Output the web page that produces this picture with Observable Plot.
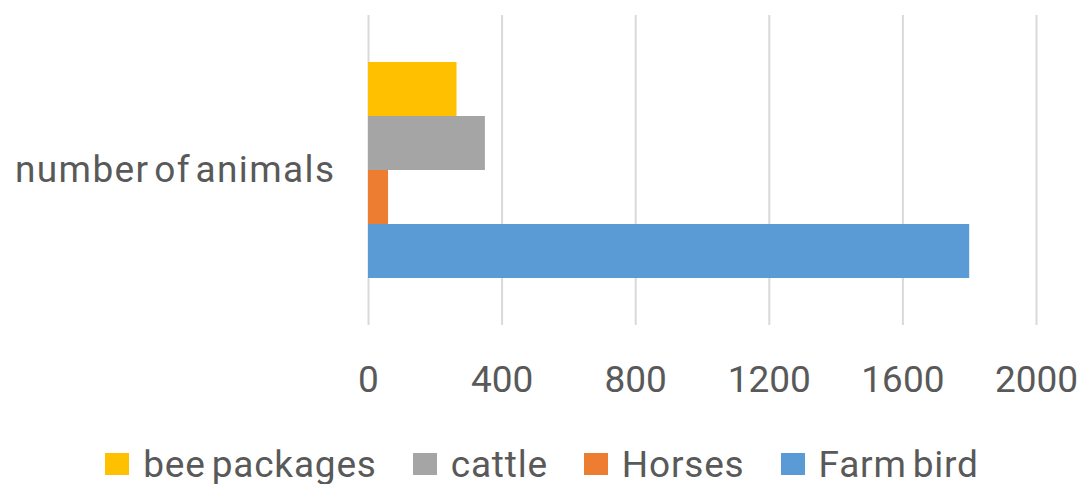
<!DOCTYPE html>
<html><head><meta charset="utf-8">
<script src="https://cdn.jsdelivr.net/npm/d3@7"></script>
<script src="https://cdn.jsdelivr.net/npm/@observablehq/plot@0.6"></script>
<style>
body{margin:0;background:#fff;font-family:Roboto,sans-serif;}
#chart svg{display:block;}
#legend{display:flex;justify-content:center;align-items:center;padding-top:24px;height:40px;font-family:Roboto,sans-serif;font-size:37px;letter-spacing:0.8px;word-spacing:-4px;color:#595959;}
.item{display:flex;align-items:center;margin:0 18px;}
.sw{width:24px;height:22px;margin-right:14px;}
</style></head><body><div id="chart"></div><div id="legend"></div><script>
const category = ["number of animals"];
const series = ["bee packages","cattle","Horses","Farm bird"];
const values = [265,350,60,1800];
const colors = ["#FFC000","#A5A5A5","#ED7D31","#5B9BD5"];
const xTicks = [0,400,800,1200,1600,2000];
const data = series.map((s,i)=>({category:category[0], series:s, value:values[i]}));
const plot = Plot.plot({
  width:1084, height:420, marginLeft:368, marginRight:48, marginTop:15, marginBottom:95,
  style:{fontFamily:"Roboto, sans-serif", background:"#fff", color:"#595959"},
  x:{domain:[0,2000], label:null},
  y:{domain:series, paddingInner:0, paddingOuter:0.87, axis:null},
  fy:{domain:category, padding:0, label:null, axis:null},
  color:{domain:series, range:colors},
  marks:[
    Plot.gridX(xTicks, {stroke:"#d9d9d9", strokeOpacity:1, strokeWidth:2}),
    Plot.barX(data, {x:"value", y:"series", fy:"category", fill:"series"}),
    Plot.axisX(xTicks, {tickSize:0, tickPadding:40, fontSize:37, fill:"#595959", label:null, tickFormat:d => String(d)}),
    Plot.axisFy({tickSize:0, tickPadding:33, fontSize:37, fill:"#595959", label:null, anchor:"left"})
  ]
});
document.getElementById("chart").appendChild(plot);
plot.querySelectorAll("g[aria-label='fy-axis tick label']").forEach(el => {
  el.style.letterSpacing = "1.4px";
  el.style.wordSpacing = "-6px";
});
const lg = document.getElementById("legend");
series.forEach((s,i)=>{
  const it = document.createElement("div"); it.className="item";
  const sw = document.createElement("div"); sw.className="sw"; sw.style.background=colors[i];
  const t = document.createElement("span"); t.textContent=s;
  it.appendChild(sw); it.appendChild(t); lg.appendChild(it);
});
</script></body></html>
